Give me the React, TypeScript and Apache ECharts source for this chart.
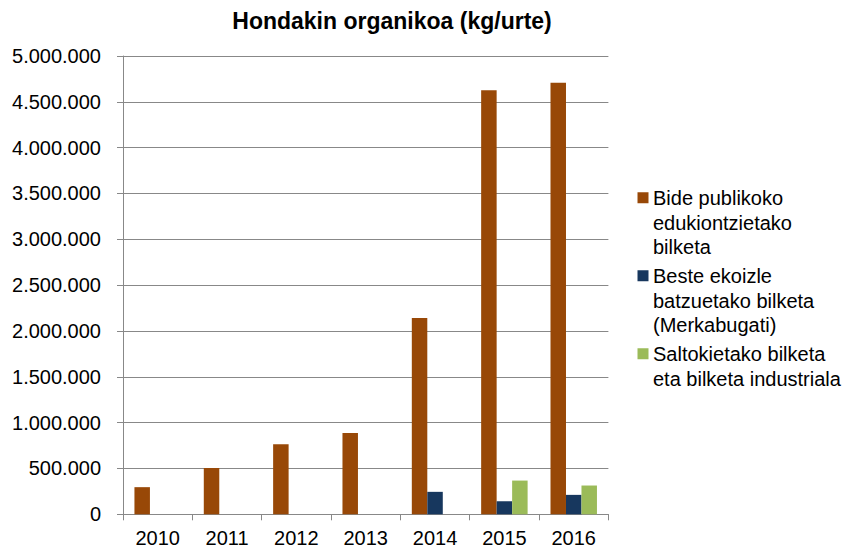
import React, { useEffect, useRef } from "react";
import * as echarts from "echarts";

const title = "Hondakin organikoa (kg/urte)";
const categories = ["2010", "2011", "2012", "2013", "2014", "2015", "2016"];
const seriesNames = [
  "Bide publikoko edukiontzietako bilketa",
  "Beste ekoizle batzuetako bilketa (Merkabugati)",
  "Saltokietako bilketa eta bilketa industriala",
];
const legendLines = [
  ["Bide publikoko", "edukiontzietako", "bilketa"],
  ["Beste ekoizle", "batzuetako bilketa", "(Merkabugati)"],
  ["Saltokietako bilketa", "eta bilketa industriala"],
];
const publicValues = [296000, 505000, 763000, 888000, 2142000, 4625000, 4708000];
const otherValues = [null, null, null, null, 245000, 142000, 212000];
const shopValues = [null, null, null, null, null, 368000, 314000];
const colors = ["#984807", "#17375E", "#9BBB59"];

const FONT = '"Liberation Sans", Arial, sans-serif';

function fmt(v: number): string {
  const s = String(Math.round(v));
  return s.replace(/\B(?=(\d{3})+(?!\d))/g, ".");
}

export default function App() {
  const ref = useRef<HTMLDivElement>(null);
  useEffect(() => {
    if (!ref.current) return;
    const chart = echarts.init(ref.current, null, { renderer: "svg" });
    const lineH = 24.5;
    const gap = 4.5;
    let top = 186;
    const legendGraphics: any[] = [];
    legendLines.forEach((lines, i) => {
      legendGraphics.push({
        type: "rect",
        shape: { x: 637.5, y: top + lineH / 2 - 6, width: 11, height: 11 },
        style: { fill: colors[i] },
      });
      legendGraphics.push({
        type: "text",
        x: 653,
        y: top,
        style: {
          text: lines.join("\n"),
          font: `20px ${FONT}`,
          lineHeight: lineH,
          fill: "#000",
          verticalAlign: "top",
          align: "left",
        },
      });
      top += lines.length * lineH + gap;
    });
    legendGraphics.push({
      type: "text",
      x: 392,
      y: 21,
      style: {
        text: title,
        font: `bold 23px ${FONT}`,
        fill: "#000",
        align: "center",
        verticalAlign: "middle",
      },
    });

    const dataSets = [publicValues, otherValues, shopValues];
    chart.setOption({
      animation: false,
      backgroundColor: "#fff",
      grid: { left: 123, right: 246.6, top: 56, bottom: 36.7 },
      xAxis: {
        type: "category",
        data: categories,
        axisLine: { lineStyle: { color: "#888", width: 1 } },
        axisTick: { show: true, length: 6, alignWithLabel: false, lineStyle: { color: "#888" } },
        axisLabel: { color: "#000", fontFamily: FONT, fontSize: 20, margin: 14 },
      },
      yAxis: {
        type: "value",
        min: 0,
        max: 5000000,
        interval: 500000,
        axisLine: { show: true, lineStyle: { color: "#888", width: 1 } },
        axisTick: { show: true, length: 6, lineStyle: { color: "#888" } },
        splitLine: { show: true, lineStyle: { color: "#888", width: 1 } },
        axisLabel: {
          color: "#000",
          fontFamily: FONT,
          fontSize: 20,
          margin: 22,
          formatter: (v: number) => fmt(v),
        },
      },
      series: seriesNames.map((name, i) => ({
        name,
        type: "bar",
        data: dataSets[i],
        barGap: "0%",
        barCategoryGap: "33%",
        itemStyle: { color: colors[i] },
      })),
      graphic: legendGraphics,
    });
    return () => chart.dispose();
  }, []);
  return (
    <div
      ref={ref}
      style={{ position: "absolute", left: 0, top: 0, width: 855, height: 551, background: "#fff" }}
    />
  );
}
